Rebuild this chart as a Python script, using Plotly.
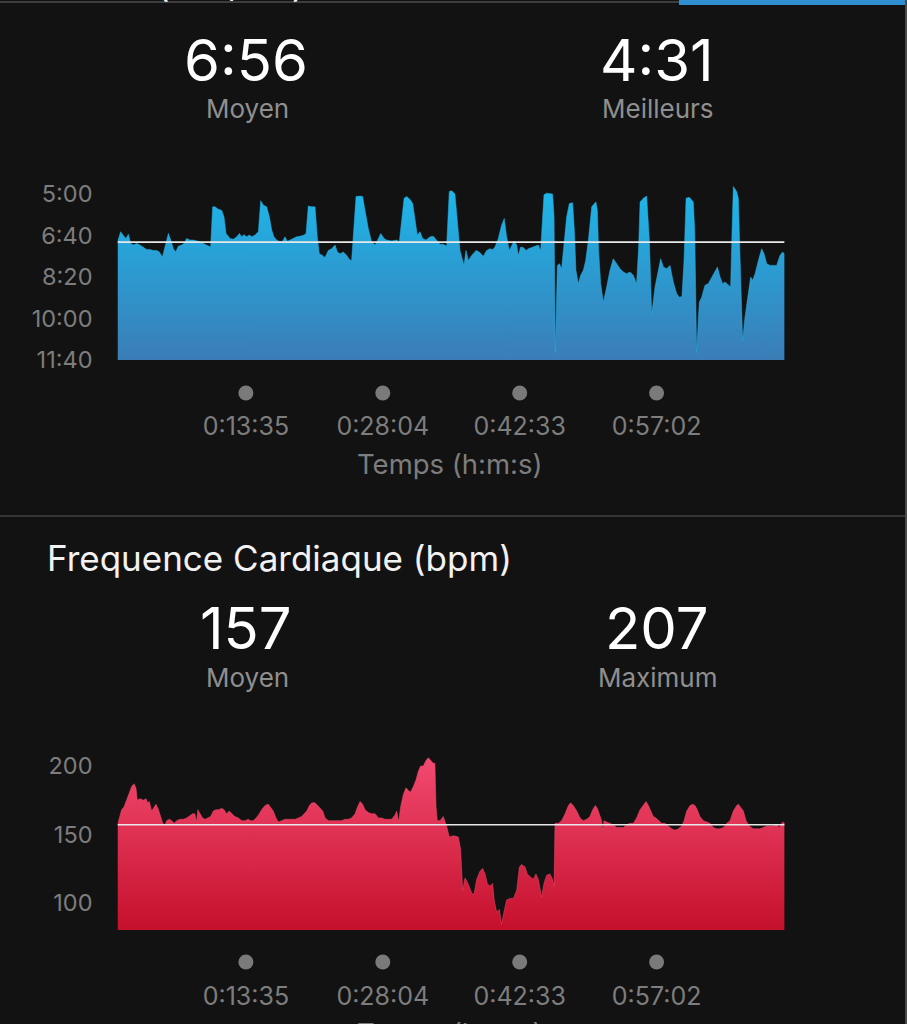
import plotly.graph_objects as go

# ---------------- data ----------------
pace_time_s = [0, 20, 41, 54, 69, 84, 101, 122, 143, 164, 185, 206, 227, 249, 266, 285, 302, 323, 338, 355,
               369, 386, 407, 422, 439, 460, 481, 503, 524, 545, 566, 591, 604, 619, 640, 661, 676, 689, 714, 735,
               757, 774, 788, 803, 820, 837, 852, 873, 894, 909, 926, 947, 964, 979, 993, 1010, 1032, 1048, 1063, 1078,
               1095, 1116, 1137, 1158, 1184, 1197, 1211, 1233, 1254, 1268, 1281, 1302, 1317, 1338, 1359, 1381, 1396, 1413, 1434, 1455,
               1472, 1486, 1497, 1514, 1540, 1556, 1571, 1592, 1613, 1635, 1656, 1671, 1692, 1709, 1741, 1772, 1789, 1804, 1819, 1836,
               1857, 1874, 1889, 1903, 1920, 1937, 1958, 1984, 2005, 2026, 2047, 2068, 2089, 2106, 2121, 2142, 2157, 2174, 2191, 2199,
               2212, 2227, 2248, 2276, 2297, 2322, 2343, 2364, 2381, 2396, 2417, 2438, 2455, 2470, 2487, 2502, 2517, 2534, 2544, 2559,
               2576, 2593, 2608, 2629, 2650, 2671, 2686, 2707, 2724, 2745, 2762, 2771, 2779, 2792, 2805, 2819, 2834, 2851, 2868, 2889,
               2900, 2910, 2925, 2940, 2957, 2972, 2989, 3010, 3027, 3037, 3046, 3054, 3067, 3084, 3105, 3126, 3147, 3168, 3190, 3211,
               3232, 3253, 3274, 3295, 3308, 3317, 3338, 3359, 3376, 3391, 3412, 3433, 3448, 3465, 3486, 3507, 3528, 3549, 3566, 3583,
               3596, 3609, 3630, 3655, 3664, 3676, 3693, 3708, 3729, 3750, 3772, 3793, 3808, 3825, 3841, 3856, 3877, 3892, 3901, 3909,
               3930, 3941, 3951, 3968, 3983, 4004, 4019, 4032, 4047, 4068, 4089, 4104, 4121, 4142, 4163, 4184, 4205, 4222, 4233]
pace_s_per_km = [415, 391, 402, 407, 397, 419, 423, 419, 423, 429, 434, 434, 436, 436, 440, 452, 423, 395, 411, 432,
                 440, 426, 423, 419, 407, 411, 411, 413, 415, 419, 424, 428, 331, 331, 337, 339, 355, 395, 407, 409,
                 403, 395, 403, 398, 403, 399, 403, 399, 391, 316, 327, 331, 355, 387, 403, 411, 415, 414, 403, 414,
                 411, 407, 403, 402, 399, 395, 329, 331, 331, 403, 444, 448, 453, 436, 432, 423, 440, 444, 440, 448,
                 458, 460, 403, 306, 305, 306, 339, 383, 415, 423, 407, 395, 407, 411, 413, 411, 415, 359, 310, 306,
                 313, 323, 363, 399, 391, 407, 411, 403, 402, 411, 421, 421, 426, 294, 292, 300, 363, 436, 460, 472,
                 436, 460, 448, 436, 440, 450, 436, 432, 434, 428, 407, 375, 359, 403, 436, 426, 413, 423, 448, 428,
                 429, 436, 432, 429, 426, 423, 436, 302, 298, 300, 300, 355, 682, 472, 468, 480, 419, 355, 323, 321,
                 387, 484, 516, 496, 484, 460, 411, 331, 323, 319, 339, 436, 516, 561, 524, 484, 456, 468, 480, 488,
                 492, 488, 496, 516, 428, 319, 310, 305, 411, 589, 524, 484, 456, 476, 480, 472, 512, 540, 549, 547,
                 460, 310, 308, 319, 387, 682, 561, 549, 520, 516, 500, 484, 476, 500, 516, 512, 520, 524, 387, 282,
                 294, 310, 444, 653, 597, 540, 500, 508, 492, 460, 432, 444, 468, 472, 472, 472, 448, 440, 444]

hr_time_s = [0, 12, 26, 41, 58, 75, 90, 105, 117, 126, 143, 164, 181, 192, 202, 217, 232, 244, 257, 270,
             285, 299, 312, 329, 344, 359, 376, 397, 418, 439, 460, 477, 491, 502, 510, 523, 540, 557, 576, 591,
             608, 625, 642, 661, 676, 692, 709, 724, 745, 767, 788, 809, 830, 845, 862, 879, 894, 915, 936, 957,
             972, 989, 1006, 1021, 1042, 1063, 1084, 1106, 1127, 1148, 1169, 1184, 1201, 1218, 1233, 1254, 1269, 1286, 1303, 1318,
             1339, 1360, 1381, 1402, 1423, 1444, 1465, 1486, 1508, 1523, 1540, 1556, 1571, 1592, 1613, 1635, 1656, 1677, 1698, 1719,
             1740, 1761, 1772, 1785, 1797, 1814, 1831, 1846, 1861, 1878, 1895, 1909, 1924, 1941, 1958, 1973, 1988, 2005, 2015, 2022,
             2030, 2047, 2068, 2089, 2106, 2132, 2163, 2178, 2191, 2206, 2221, 2248, 2263, 2280, 2301, 2318, 2333, 2347, 2364, 2381,
             2392, 2407, 2424, 2438, 2453, 2470, 2491, 2513, 2534, 2551, 2565, 2587, 2601, 2618, 2639, 2656, 2671, 2692, 2707, 2724,
             2745, 2762, 2771, 2777, 2798, 2819, 2841, 2862, 2876, 2893, 2915, 2936, 2957, 2978, 2999, 3016, 3033, 3046, 3063, 3073,
             3080, 3088, 3105, 3126, 3147, 3168, 3190, 3211, 3232, 3253, 3274, 3295, 3317, 3338, 3355, 3370, 3384, 3401, 3418, 3435,
             3454, 3475, 3496, 3518, 3539, 3560, 3581, 3596, 3613, 3634, 3651, 3666, 3680, 3697, 3719, 3740, 3761, 3782, 3803, 3824,
             3846, 3867, 3888, 3909, 3930, 3941, 3956, 3973, 3990, 4011, 4036, 4057, 4078, 4099, 4121, 4142, 4163, 4184, 4201, 4216,
             4226, 4233]
hr_bpm = [157, 162, 168, 170, 175, 181, 185, 187, 184, 175, 176, 175, 176, 173, 174, 167, 170, 172, 169, 164,
          159, 156, 160, 161, 160, 158, 160, 161, 161, 162, 164, 165, 165, 159, 168, 165, 162, 161, 162, 163,
          167, 168, 168, 169, 168, 165, 167, 165, 163, 162, 160, 160, 161, 160, 160, 162, 164, 168, 171, 172,
          170, 167, 162, 159, 160, 161, 161, 161, 161, 162, 163, 165, 167, 171, 173, 173, 171, 169, 167, 162,
          160, 160, 160, 160, 160, 161, 161, 162, 165, 170, 174, 172, 168, 166, 165, 165, 162, 162, 161, 161,
          161, 164, 167, 159, 170, 179, 184, 182, 181, 185, 190, 196, 200, 200, 204, 206, 204, 202, 202, 170,
          160, 160, 163, 156, 148, 149, 148, 139, 109, 118, 115, 107, 106, 117, 123, 125, 121, 114, 112, 114,
          101, 93, 95, 84, 93, 102, 103, 103, 109, 126, 128, 126, 121, 119, 117, 121, 117, 104, 114, 120,
          121, 117, 112, 158, 158, 160, 165, 171, 173, 171, 167, 162, 160, 161, 163, 168, 171, 169, 163, 160,
          153, 160, 159, 158, 157, 155, 155, 155, 157, 158, 158, 162, 168, 171, 174, 171, 167, 163, 162, 160,
          158, 158, 156, 154, 153, 154, 156, 160, 167, 171, 172, 171, 168, 163, 160, 159, 158, 155, 154, 154,
          155, 158, 160, 167, 171, 172, 170, 167, 160, 156, 154, 154, 154, 155, 156, 156, 156, 157, 155, 158,
          159, 158]

time_tick_vals = [815, 1684, 2553, 3422]
time_tick_text = ["0:13:35", "0:28:04", "0:42:33", "0:57:02"]
pace_tick_vals = [300, 400, 500, 600, 700]
pace_tick_text = ["5:00", "6:40", "8:20", "10:00", "11:40"]
hr_tick_vals = [100, 150, 200]
hr_tick_text = ["100", "150", "200"]

pace_avg_s = 416      # 6:56
pace_best_s = 271     # 4:31
hr_avg = 157
hr_max = 207

pace_stat_values = ["6:56", "4:31"]
pace_stat_labels = ["Moyen", "Meilleurs"]
hr_stat_values = ["157", "207"]
hr_stat_labels = ["Moyen", "Maximum"]

# ---------------- style ----------------
W, H = 907, 1024
BG = "#121212"
FONT = "Inter"
GREY = "#7d7d7d"
DOT = "#7a7a7a"


def px(x):
    return x / W


def py(y):
    return 1 - y / H


PACE_BOTTOM, PACE_TOP = 700, 270
HR_BOTTOM, HR_TOP = 80, 210
END_T = 4237

fig = go.Figure()

# ---- pace chart ----
fig.add_trace(go.Scatter(x=[0, pace_time_s[-1]], y=[PACE_BOTTOM, PACE_BOTTOM], mode="lines",
                         line=dict(width=0), hoverinfo="skip", showlegend=False, xaxis="x", yaxis="y"))
fig.add_trace(go.Scatter(x=pace_time_s, y=pace_s_per_km, mode="lines", line=dict(width=0.5, color="#22b4e6"),
                         fill="tonexty",
                         fillgradient=dict(type="vertical", start=PACE_TOP, stop=PACE_BOTTOM,
                                           colorscale=[[0, "#1cb9ec"], [1, "#3b7db6"]]),
                         showlegend=False, xaxis="x", yaxis="y"))
fig.add_trace(go.Scatter(x=[0, pace_time_s[-1]], y=[pace_avg_s, pace_avg_s], mode="lines",
                         line=dict(color="#e8e8e8", width=1.6), showlegend=False, xaxis="x", yaxis="y"))
fig.add_trace(go.Scatter(x=time_tick_vals, y=[0.5] * len(time_tick_vals), mode="markers",
                         marker=dict(size=15, color=DOT), showlegend=False, hoverinfo="skip",
                         xaxis="x", yaxis="y3"))

# ---- heart-rate chart ----
fig.add_trace(go.Scatter(x=[0, hr_time_s[-1]], y=[HR_BOTTOM, HR_BOTTOM], mode="lines",
                         line=dict(width=0), hoverinfo="skip", showlegend=False, xaxis="x2", yaxis="y2"))
fig.add_trace(go.Scatter(x=hr_time_s, y=hr_bpm, mode="lines", line=dict(width=0.5, color="#ef4a6c"),
                         fill="tonexty",
                         fillgradient=dict(type="vertical", start=HR_TOP, stop=HR_BOTTOM,
                                           colorscale=[[0, "#f44c72"], [1, "#c5102c"]]),
                         showlegend=False, xaxis="x2", yaxis="y2"))
fig.add_trace(go.Scatter(x=[0, hr_time_s[-1]], y=[hr_avg, hr_avg], mode="lines",
                         line=dict(color="#e8e8e8", width=1.6), showlegend=False, xaxis="x2", yaxis="y2"))
fig.add_trace(go.Scatter(x=time_tick_vals, y=[0.5] * len(time_tick_vals), mode="markers",
                         marker=dict(size=15, color=DOT), showlegend=False, hoverinfo="skip",
                         xaxis="x2", yaxis="y4"))

xdom = [px(117.5), px(785)]
common_x = dict(range=[0, END_T], tickvals=time_tick_vals, ticktext=time_tick_text, showgrid=False,
                zeroline=False, showline=False, ticks="", tickfont=dict(family=FONT, size=25, color=GREY),
                ticklabelstandoff=49, automargin=False, fixedrange=True)
common_y = dict(showgrid=False, zeroline=False, showline=False, ticks="",
                tickfont=dict(family=FONT, size=23.5, color=GREY), ticklabelstandoff=24,
                automargin=False, fixedrange=True)
dot_axis = dict(range=[0, 1], visible=False, fixedrange=True, showgrid=False, zeroline=False)

fig.update_layout(
    width=W, height=H, margin=dict(l=0, r=0, t=0, b=0),
    paper_bgcolor=BG, plot_bgcolor="rgba(0,0,0,0)", showlegend=False,
    xaxis=dict(domain=xdom, anchor="y", **common_x),
    yaxis=dict(domain=[py(360), py(360 - (PACE_BOTTOM - PACE_TOP) * 0.415)], anchor="x",
               range=[PACE_BOTTOM, PACE_TOP], tickvals=pace_tick_vals, ticktext=pace_tick_text, **common_y),
    yaxis3=dict(domain=[py(403), py(383)], anchor="x", **dot_axis),
    xaxis2=dict(domain=xdom, anchor="y2", **common_x),
    yaxis2=dict(domain=[py(930), py(930 - (HR_TOP - HR_BOTTOM) * 1.367)], anchor="x2",
                range=[HR_BOTTOM, HR_TOP], tickvals=hr_tick_vals, ticktext=hr_tick_text, **common_y),
    yaxis4=dict(domain=[py(972), py(952)], anchor="x2", **dot_axis),
)

ann = []
# section titles
ann.append(dict(text="Allure (min/km)", x=px(50), y=py(-16), xanchor="left", yanchor="middle",
                font=dict(family=FONT, size=35, color="#f2f2f2")))
ann.append(dict(text="Frequence Cardiaque (bpm)", x=px(45), y=py(558), xanchor="left", yanchor="middle",
                font=dict(family=FONT, size=35, color="#f2f2f2")))
# axis titles
for cy in [464, 1033]:
    ann.append(dict(text="Temps (h:m:s)", x=px(450), y=py(cy), xanchor="center", yanchor="middle",
                    font=dict(family=FONT, size=27.5, color=GREY)))
# stats
for i, cx in enumerate([246, 657]):
    ann.append(dict(text=pace_stat_values[i], x=px(cx), y=py(60), xanchor="center", yanchor="middle",
                    font=dict(family=FONT, size=58, color="#ffffff")))
    ann.append(dict(text=pace_stat_labels[i], x=px(cx + 1), y=py(108), xanchor="center", yanchor="middle",
                    font=dict(family=FONT, size=26, color="#8f8f8f")))
    ann.append(dict(text=hr_stat_values[i], x=px(cx), y=py(628), xanchor="center", yanchor="middle",
                    font=dict(family=FONT, size=58, color="#ffffff")))
    ann.append(dict(text=hr_stat_labels[i], x=px(cx + 1), y=py(677), xanchor="center", yanchor="middle",
                    font=dict(family=FONT, size=26, color="#8f8f8f")))
for a in ann:
    a.update(xref="paper", yref="paper", showarrow=False)
fig.update_layout(annotations=ann)

fig.update_layout(shapes=[
    dict(type="line", xref="paper", yref="paper", x0=0, x1=1, y0=py(2), y1=py(2),
         line=dict(color="#3d3d3d", width=2)),
    dict(type="rect", xref="paper", yref="paper", x0=px(679), x1=1, y0=py(5), y1=1,
         fillcolor="#2f8fd0", line=dict(width=0)),
    dict(type="line", xref="paper", yref="paper", x0=0, x1=1, y0=py(516), y1=py(516),
         line=dict(color="#404040", width=1.5)),
    dict(type="line", xref="paper", yref="paper", x0=px(906), x1=px(906), y0=0, y1=1,
         line=dict(color="#4a4a4a", width=2)),
])

fig.write_html("out.html", config={"displayModeBar": False},
               post_script="document.body.style.margin='0px';document.body.style.background='#121212';")
